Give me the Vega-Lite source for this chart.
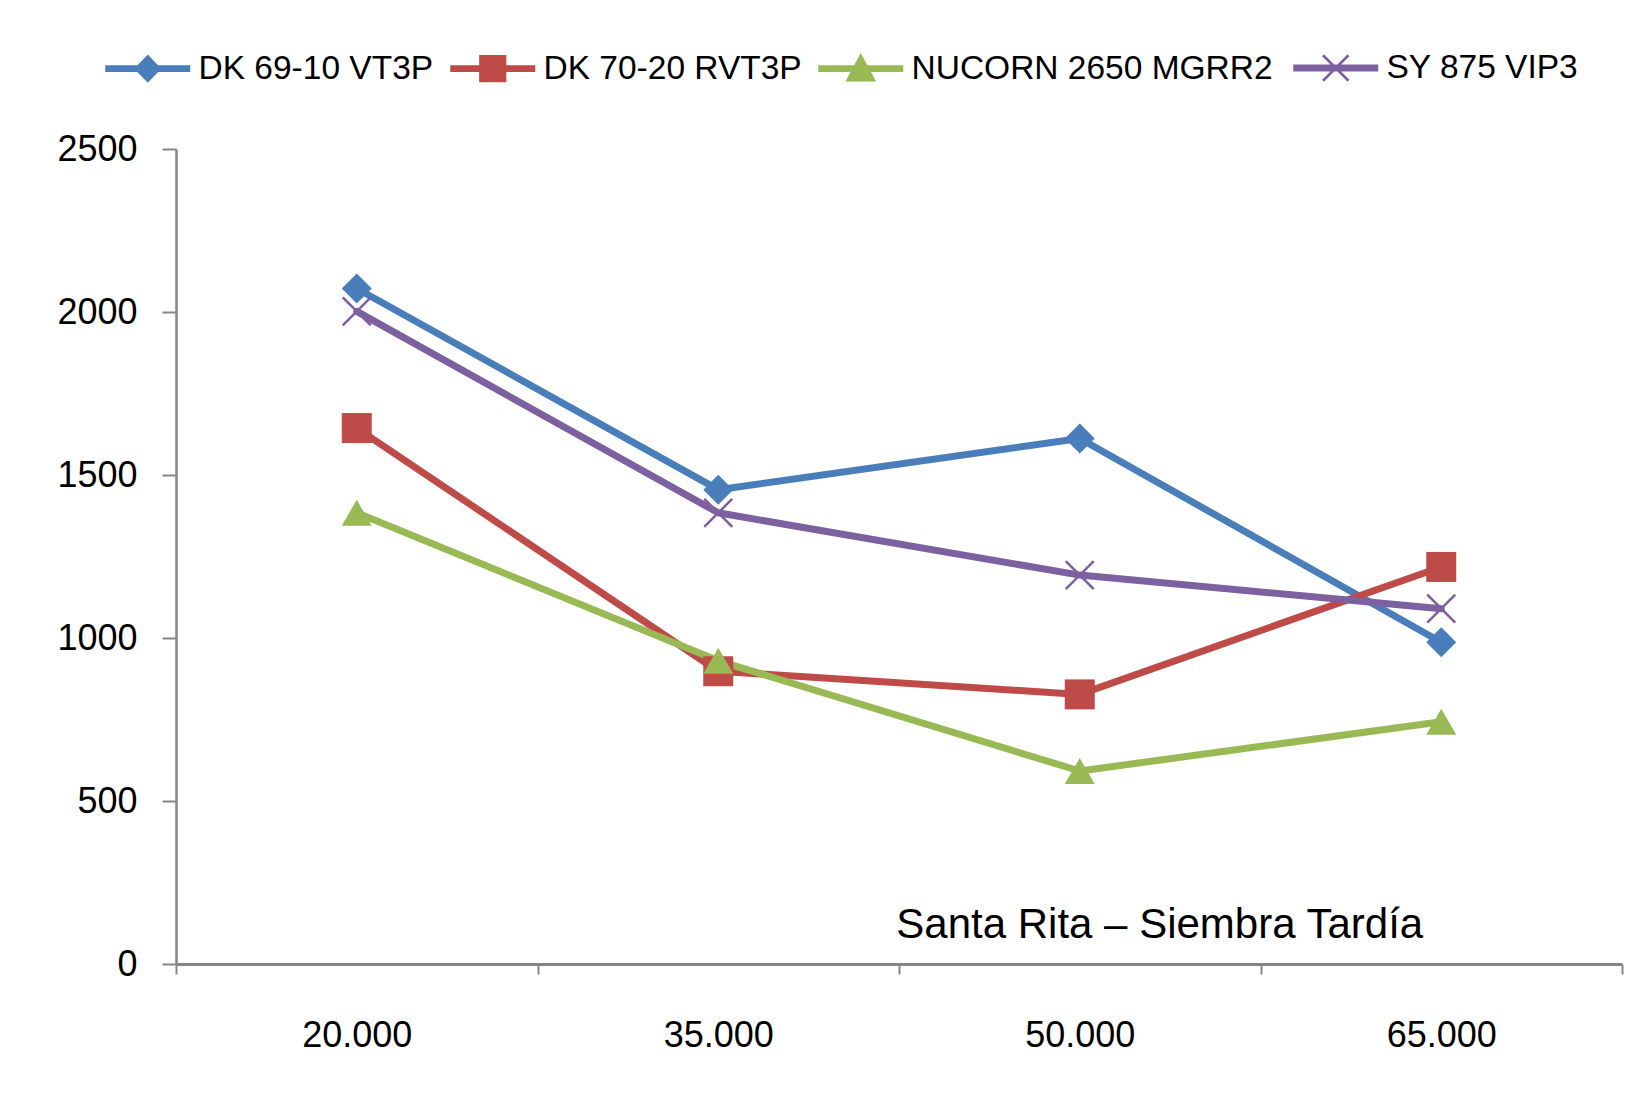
{
  "$schema": "https://vega.github.io/schema/vega-lite/v6.json",
  "autosize": {"type": "none"},
  "width": 1446,
  "height": 815,
  "padding": {"left": 176, "top": 149, "right": 22, "bottom": 129},
  "background": "white",
  "config": {
    "view": {"stroke": null},
    "font": "Liberation Sans"
  },
  "datasets": {
    "yields": [
      {"density": "20.000", "hybrid": "DK 69-10 VT3P", "yield": 2072},
      {"density": "35.000", "hybrid": "DK 69-10 VT3P", "yield": 1455},
      {"density": "50.000", "hybrid": "DK 69-10 VT3P", "yield": 1612},
      {"density": "65.000", "hybrid": "DK 69-10 VT3P", "yield": 987},
      {"density": "20.000", "hybrid": "DK 70-20 RVT3P", "yield": 1644},
      {"density": "35.000", "hybrid": "DK 70-20 RVT3P", "yield": 898},
      {"density": "50.000", "hybrid": "DK 70-20 RVT3P", "yield": 827},
      {"density": "65.000", "hybrid": "DK 70-20 RVT3P", "yield": 1218},
      {"density": "20.000", "hybrid": "NUCORN 2650 MGRR2", "yield": 1384},
      {"density": "35.000", "hybrid": "NUCORN 2650 MGRR2", "yield": 930},
      {"density": "50.000", "hybrid": "NUCORN 2650 MGRR2", "yield": 592},
      {"density": "65.000", "hybrid": "NUCORN 2650 MGRR2", "yield": 743},
      {"density": "20.000", "hybrid": "SY 875 VIP3", "yield": 2002},
      {"density": "35.000", "hybrid": "SY 875 VIP3", "yield": 1384},
      {"density": "50.000", "hybrid": "SY 875 VIP3", "yield": 1193},
      {"density": "65.000", "hybrid": "SY 875 VIP3", "yield": 1090}
    ],
    "note": [
      {"label": "Santa Rita – Siembra Tardía"}
    ]
  },
  "layer": [
    {
      "data": {"name": "yields"},
      "encoding": {
        "x": {
          "field": "density",
          "type": "ordinal",
          "bandPosition": 0.5,
          "scale": {"type": "band", "paddingInner": 0, "paddingOuter": 0},
          "axis": {
            "title": null,
            "labelAngle": 0,
            "labelFontSize": 36,
            "labelColor": "#000000",
            "labelPadding": 44,
            "tickBand": "extent",
            "tickSize": 10,
            "tickColor": "#868686",
            "tickWidth": 2,
            "domainColor": "#868686",
            "domainWidth": 3,
            "grid": false
          }
        },
        "y": {
          "field": "yield",
          "type": "quantitative",
          "scale": {"domain": [0, 2500], "nice": false},
          "axis": {
            "title": null,
            "values": [0, 500, 1000, 1500, 2000, 2500],
            "format": "d",
            "labelFontSize": 36,
            "labelColor": "#000000",
            "labelPadding": 25,
            "tickSize": 14,
            "tickColor": "#868686",
            "tickWidth": 2,
            "domainColor": "#868686",
            "domainWidth": 2.5,
            "grid": false
          }
        },
        "color": {
          "field": "hybrid",
          "type": "nominal",
          "scale": {
            "domain": ["DK 69-10 VT3P", "DK 70-20 RVT3P", "NUCORN 2650 MGRR2", "SY 875 VIP3"],
            "range": ["#4A7EBB", "#BE4B48", "#98B954", "#7D60A0"]
          },
          "legend": {
            "title": null,
            "orient": "none",
            "direction": "horizontal",
            "columns": 4,
            "legendX": -45,
            "legendY": -98,
            "symbolSize": 7225,
            "labelFontSize": 33.5,
            "labelColor": "#000000",
            "labelOffset": 34,
            "columnPadding": 16,
            "labelLimit": 0,
            "encode": {
              "symbols": {
                "update": {
                  "shape": {"signal": "datum.value === 'DK 69-10 VT3P' ? 'M-1,-0.082H1V0.082H-1Z M0,-0.33L0.32,0L0,0.33L-0.32,0Z' : datum.value === 'DK 70-20 RVT3P' ? 'M-1,-0.082H1V0.082H-1Z M-0.32,-0.32H0.32V0.32H-0.32Z' : datum.value === 'NUCORN 2650 MGRR2' ? 'M-1,-0.082H1V0.082H-1Z M0,-0.37L0.36,0.3L-0.36,0.3Z' : 'M-0.97,-0.053H0.97V0.053H-0.97Z M-0.3,-0.3L0.3,0.3M-0.3,0.3L0.3,-0.3'"},
                  "fill": {"scale": "color", "field": "value"},
                  "stroke": {"scale": "color", "field": "value"},
                  "strokeWidth": {"signal": "datum.value === 'SY 875 VIP3' ? 2.5 : 0"},
                  "opacity": {"value": 1}
                }
              }
            }
          }
        }
      },
      "layer": [
        {
          "mark": {"type": "line", "strokeWidth": 7, "strokeJoin": "round", "strokeCap": "round"}
        },
        {
          "transform": [{"filter": "datum.hybrid !== 'SY 875 VIP3'"}],
          "mark": {"type": "point", "filled": true, "opacity": 1, "size": 900},
          "encoding": {
            "shape": {
              "field": "hybrid",
              "type": "nominal",
              "scale": {
                "domain": ["DK 69-10 VT3P", "DK 70-20 RVT3P", "NUCORN 2650 MGRR2"],
                "range": ["diamond", "square", "triangle-up"]
              },
              "legend": null
            }
          }
        },
        {
          "transform": [{"filter": "datum.hybrid === 'SY 875 VIP3'"}],
          "mark": {"type": "point", "filled": false, "opacity": 1, "size": 784, "strokeWidth": 2.5, "shape": "M-1,-1L1,1M-1,1L1,-1"}
        }
      ]
    },
    {
      "data": {"name": "note"},
      "mark": {"type": "text", "fontSize": 42, "fill": "#000000", "align": "center", "baseline": "alphabetic", "dx": 80},
      "encoding": {
        "x": {"datum": "50.000"},
        "y": {"datum": 81},
        "text": {"field": "label", "type": "nominal"}
      }
    }
  ]
}
